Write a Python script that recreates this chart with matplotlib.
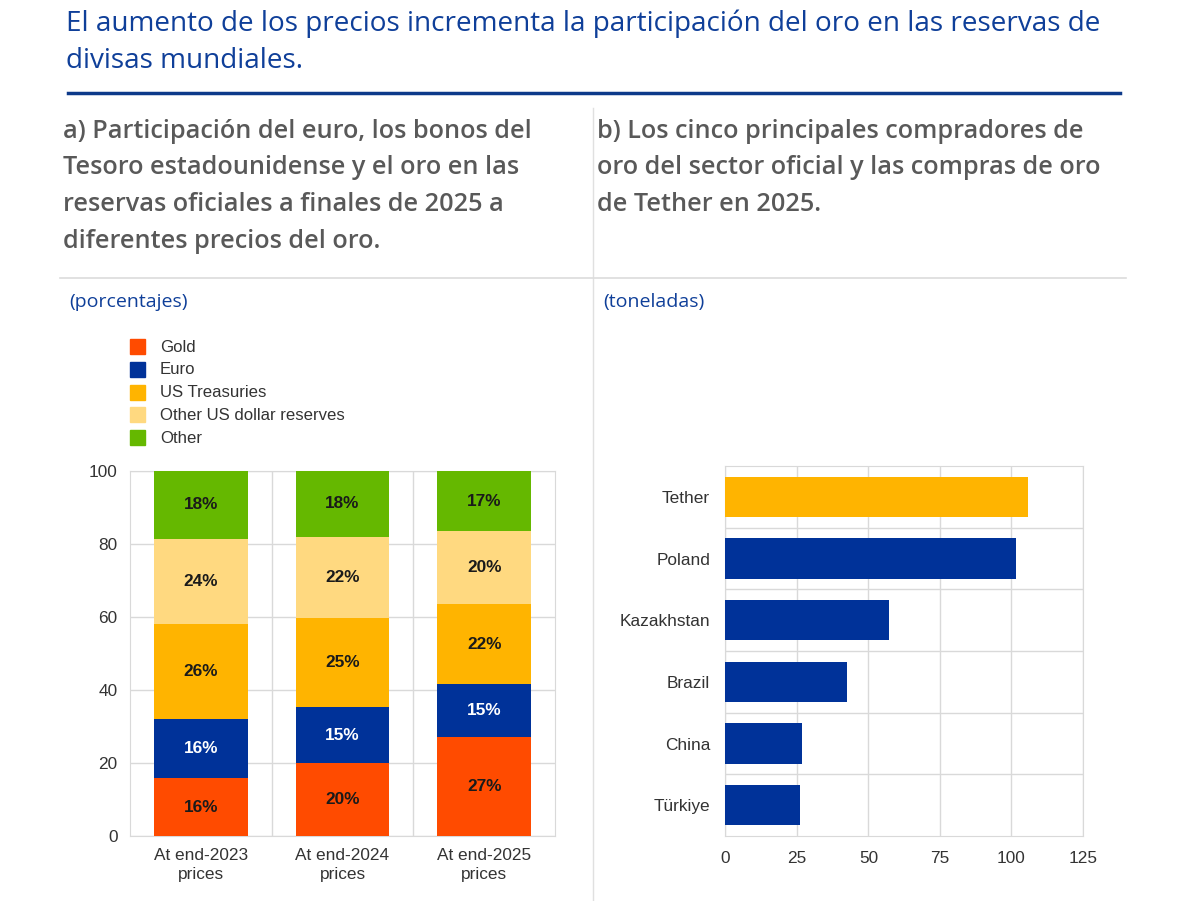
import numpy as np
import matplotlib
matplotlib.use('Agg')
import matplotlib.pyplot as plt
from matplotlib.patches import Rectangle
from matplotlib.lines import Line2D

# panel a: shares of official reserves (percent)
periods = ['At end-2023\nprices', 'At end-2024\nprices', 'At end-2025\nprices']
series_names = ['Gold', 'Euro', 'US Treasuries', 'Other US dollar reserves', 'Other']
gold = [15.8, 19.9, 27.2]
euro = [16.1, 15.4, 14.5]
us_treasuries = [26.0, 24.5, 21.7]
other_usd = [23.5, 22.1, 20.0]
other = [18.6, 18.1, 16.6]
gold_lbl = ['16%', '20%', '27%']
euro_lbl = ['16%', '15%', '15%']
ust_lbl = ['26%', '25%', '22%']
other_usd_lbl = ['24%', '22%', '20%']
other_lbl = ['18%', '18%', '17%']

# panel b: gold purchases 2025 (tonnes)
buyers = ['Tether', 'Poland', 'Kazakhstan', 'Brazil', 'China', 'Türkiye']
tonnes = [105.8, 101.7, 57.2, 42.6, 26.7, 26.2]

C_GOLD = '#ff4b00'
C_EURO = '#003299'
C_UST = '#ffb400'
C_OUSD = '#ffd980'
C_OTHER = '#65b800'
colors = [C_GOLD, C_EURO, C_UST, C_OUSD, C_OTHER]
title_blue = '#0f3f99'
head_grey = '#595959'
grid_grey = '#d9d9d9'
txt = '#333333'
FS = 12.4

W, H = 1200, 901
fig = plt.figure(figsize=(12, 9.01), dpi=100)


def fx(px):
    return px / W


def fy(py):
    return 1 - py / H


def px_axes(left, top, right, bottom):
    return fig.add_axes([fx(left), fy(bottom), fx(right - left), (bottom - top) / H])


# header
fig.text(fx(66), fy(24), 'El aumento de los precios incrementa la participación del oro en las reservas de',
         family='Open Sans', fontsize=20.1, color=title_blue, va='center')
fig.text(fx(66), fy(61), 'divisas mundiales.',
         family='Open Sans', fontsize=20.1, color=title_blue, va='center')
fig.add_artist(Line2D([fx(68), fx(1120)], [fy(93), fy(93)], color='#0d3a8a', lw=2.5))

fig.add_artist(Line2D([fx(593), fx(593)], [fy(108), fy(901)], color='#e0e0e0', lw=1))
fig.add_artist(Line2D([fx(60), fx(1126)], [fy(278), fy(278)], color='#dcdcdc', lw=1.2))

head_a = ['a) Participación del euro, los bonos del',
          'Tesoro estadounidense y el oro en las',
          'reservas oficiales a finales de 2025 a',
          'diferentes precios del oro.']
head_b = ['b) Los cinco principales compradores de',
          'oro del sector oficial y las compras de oro',
          'de Tether en 2025.']
for i, s in enumerate(head_a):
    fig.text(fx(63), fy(131 + i * 36.7), s, family='Open Sans', fontweight='semibold',
             fontsize=18.2, color=head_grey, va='center')
for i, s in enumerate(head_b):
    fig.text(fx(597), fy(131 + i * 36.7), s, family='Open Sans', fontweight='semibold',
             fontsize=18.2, color=head_grey, va='center')

fig.text(fx(69), fy(302), '(porcentajes)', family='Open Sans', fontsize=14, color=title_blue, va='center')
fig.text(fx(603), fy(302), '(toneladas)', family='Open Sans', fontsize=14, color=title_blue, va='center')

# legend for panel a
for i, (name, c) in enumerate(zip(series_names, colors)):
    y = 347 + i * 22.8
    fig.add_artist(Rectangle((fx(130), fy(y + 7)), fx(15), 15 / H, color=c))
    fig.text(fx(160), fy(y), name, family='Liberation Sans', fontsize=12.1, color=txt, va='center')

# panel a axes
ax = px_axes(130, 470.7, 555, 836)
x = np.arange(len(periods))
stack = [gold, euro, us_treasuries, other_usd, other]
labels = [gold_lbl, euro_lbl, ust_lbl, other_usd_lbl, other_lbl]
bottom = np.zeros(len(periods))
for vals, c, lbls in zip(stack, colors, labels):
    vals = np.array(vals)
    ax.bar(x, vals, bottom=bottom, width=0.66, color=c, zorder=3)
    tc = 'white' if c == C_EURO else '#1a1a1a'
    for xi, b, v, t in zip(x, bottom, vals, lbls):
        ax.text(xi, b + v / 2, t, ha='center', va='center', fontsize=FS,
                fontweight='bold', family='Liberation Sans', color=tc, zorder=4)
    bottom = bottom + vals

ax.set_xlim(-0.5, 2.5)
ax.set_ylim(0, 100)
ax.set_yticks([0, 20, 40, 60, 80, 100])
ax.set_xticks(x)
ax.set_xticklabels(periods, family='Liberation Sans', fontsize=FS, color=txt, linespacing=1.25)
for lab in ax.get_yticklabels():
    lab.set_family('Liberation Sans')
    lab.set_fontsize(FS)
    lab.set_color(txt)
ax.set_xticks([0.5, 1.5], minor=True)
ax.grid(axis='y', color=grid_grey, lw=1, zorder=0)
ax.grid(axis='x', which='minor', color=grid_grey, lw=1, zorder=0)
ax.tick_params(length=0, pad=9)
ax.tick_params(axis='x', which='minor', length=0)
for sp in ax.spines.values():
    sp.set_color(grid_grey)

# panel b axes
ax2 = px_axes(725.3, 466, 1083, 836)
y = np.arange(len(buyers))
bar_colors = [C_UST] + [C_EURO] * (len(buyers) - 1)
ax2.barh(y, tonnes, height=0.65, color=bar_colors, zorder=3)
ax2.set_ylim(len(buyers) - 0.5, -0.5)
ax2.set_xlim(0, 125)
ax2.set_xticks([0, 25, 50, 75, 100, 125])
ax2.set_yticks(y)
ax2.set_yticklabels(buyers, family='Liberation Sans', fontsize=FS, color=txt)
for lab in ax2.get_xticklabels():
    lab.set_family('Liberation Sans')
    lab.set_fontsize(FS)
    lab.set_color(txt)
ax2.set_yticks(np.arange(0.5, len(buyers) - 1, 1), minor=True)
ax2.grid(axis='x', color=grid_grey, lw=1, zorder=0)
ax2.grid(axis='y', which='minor', color=grid_grey, lw=1, zorder=0)
ax2.tick_params(length=0)
ax2.tick_params(axis='y', pad=11)
ax2.tick_params(axis='x', pad=11)
ax2.tick_params(axis='y', which='minor', length=0)
for sp in ax2.spines.values():
    sp.set_color(grid_grey)

fig.savefig('out.png', dpi=100, facecolor='white')
